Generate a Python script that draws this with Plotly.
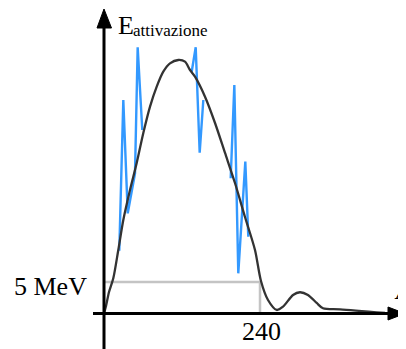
import plotly.graph_objects as go

# --- data (A = mass number, E = activation energy in MeV) ---
a_curve = [0, 3.1, 7.7, 14.3, 22.0, 29.7, 40.0, 50.3, 60.5, 70.8, 81.1, 91.2, 101.5, 114.3,
           124.6, 132.3, 140.0, 155.4, 170.8, 186.2, 201.5, 216.9, 232.3, 241.5, 252.3,
           265.7, 275.4, 290.8, 301.5, 313.8, 327.2, 336.9, 363.1, 432.3]
e_curve = [0, 1.19, 3.41, 5.59, 10.08, 14.84, 19.60, 23.89, 28.65, 32.83, 36.0, 38.38, 39.71,
           40.24, 39.97, 38.65, 37.59, 34.41, 30.24, 25.48, 20.71, 15.32, 10.08, 5.16, 2.14,
           0.56, 1.08, 2.94, 3.37, 2.94, 1.67, 0.83, 0.67, 0.08]

a_noise = [23.5, 29.7, 36.5, 47.7, 51.8, 58.9, None, 134.9, 141.1, 147.2, 152.8, None,
           194.9, 200.5, 206.6, 217.4, 222.0]
e_noise = [9.97, 33.89, 15.9, 22.25, 42.25, 29.13, None, 38.38, 42.25, 25.52, 33.89, None,
           21.46, 36.27, 6.38, 24.10, 12.19]

level_e = 5        # "5 MeV"
level_a = 240      # "240"
y_label = "E"
y_sub = "attivazione"
x_label = "A"
e_tick = "5 MeV"
a_tick = "240"

# page has an 8px body margin; figure sized to fit the 406x349 window
OFF = 8
W, H = 406 - OFF, 349 - OFF
KX = 240 / 156.0   # A units per page pixel
KY = 5 / 31.5      # MeV per page pixel
PX0, PY0 = 104.0, 313.5   # page pixel of the origin


def ax(px):
    return (px - PX0) * KX


def ay(py):
    return (PY0 - py) * KY


X0, X1 = ax(OFF), ax(406)
Y0, Y1 = ay(349), ay(OFF)

fig = go.Figure()
fig.add_trace(go.Scatter(x=a_noise, y=e_noise, mode="lines",
                         line=dict(color="#3399FF", width=2.4), connectgaps=False,
                         hoverinfo="skip"))
fig.add_trace(go.Scatter(x=a_curve, y=e_curve, mode="lines",
                         line=dict(color="#333333", width=2.3, shape="spline", smoothing=0.8),
                         hoverinfo="skip"))

shapes = [
    # gray level guide
    dict(type="path", path=f"M 0,{level_e} L {level_a},{level_e} L {level_a},0",
         line=dict(color="#c4c4c4", width=2.5), layer="below"),
    # y axis
    dict(type="line", x0=0, x1=0, y0=Y0, y1=ay(26), line=dict(color="black", width=3)),
    dict(type="path", path=f"M 0,{ay(9)} L {ax(97)},{ay(28)} L {ax(111.5)},{ay(28)} Z",
         fillcolor="black", line=dict(color="black", width=1)),
    # x axis
    dict(type="line", x0=ax(93), x1=ax(389), y0=0, y1=0, line=dict(color="black", width=3)),
    dict(type="path", path=f"M {ax(405)},0 L {ax(388)},{ay(307)} L {ax(388)},{ay(320)} Z",
         fillcolor="black", line=dict(color="black", width=1)),
]

font = "Liberation Serif, Times New Roman, serif"
annotations = [
    dict(text=y_label, x=ax(116), y=ay(25), xref="x", yref="y",
         xanchor="left", yanchor="middle", showarrow=False,
         font=dict(family=font, size=26, color="black")),
    dict(text=y_sub, x=ax(131), y=ay(30), xref="x", yref="y",
         xanchor="left", yanchor="middle", showarrow=False,
         font=dict(family=font, size=17, color="black")),
    dict(text=e_tick, x=ax(89), y=ay(286), xref="x", yref="y",
         xanchor="right", yanchor="middle", showarrow=False,
         font=dict(family=font, size=26, color="black")),
    dict(text=a_tick, x=ax(261), y=ay(331), xref="x", yref="y",
         xanchor="center", yanchor="middle", showarrow=False,
         font=dict(family=font, size=26, color="black")),
    dict(text=f"<i>{x_label}</i>", x=ax(392), y=ay(290),
         xref="x", yref="y", xanchor="left", yanchor="middle", showarrow=False,
         font=dict(family=font, size=26, color="black")),
]

fig.update_layout(
    width=W, height=H,
    margin=dict(l=0, r=0, t=0, b=0, pad=0),
    paper_bgcolor="white", plot_bgcolor="white",
    showlegend=False,
    xaxis=dict(range=[X0, X1], visible=False, fixedrange=True),
    yaxis=dict(range=[Y0, Y1], visible=False, fixedrange=True),
    shapes=shapes,
    annotations=annotations,
)

fig.write_html("out.html", config={"displayModeBar": False})
